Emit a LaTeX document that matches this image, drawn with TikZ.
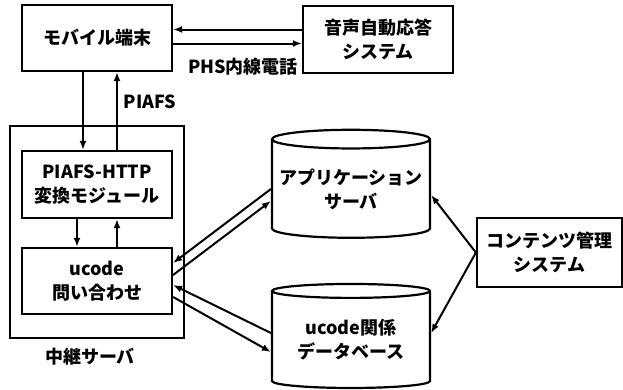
\documentclass[tikz,border=0pt]{standalone}
\usepackage{fontspec}
\setmainfont{Noto Sans CJK JP}
\usepackage{tikz}
\usetikzlibrary{arrows.meta,shapes.geometric}

\begin{document}
\begin{tikzpicture}[x=1pt, y=-1pt,
boxnode/.style={rectangle, draw=black, line width=2.2pt, align=center, inner sep=0pt},
dbnode/.style={cylinder, shape border rotate=90, draw=black, line width=2.2pt, align=center, aspect=0.13, inner sep=0pt},
arr/.style={-{Latex[length=9pt,width=7pt]}, line width=2pt},
every node/.style={font=\fontsize{18}{24}\selectfont\bfseries},
]
\useasboundingbox (0,0) rectangle (623,389);

%Nodes
\node[boxnode, minimum width=150pt, minimum height=66pt]      (mob)     at (97,38) {モバイル端末};
\node[boxnode, minimum width=150pt, minimum height=67pt]      (voice)   at (378,39.5) {音声自動応答\\システム};
\draw[line width=2.2pt] (10,126) rectangle (184,338);
\node                                                          (relay)   at (90,357) {中継サーバ};
\node[boxnode, minimum width=150pt, minimum height=67pt]      (piafs)   at (97,184.5) {PIAFS-HTTP\\変換モジュール};
\node[boxnode, minimum width=150pt, minimum height=66pt]      (uq)      at (97,281) {ucode\\問い合わせ};
\node[dbnode, minimum width=158pt, minimum height=108pt]      (app)     at (351,189) {アプリケーション\\サーバ};
\node[dbnode, minimum width=158pt, minimum height=104pt]      (db)      at (351,340) {ucode関係\\データベース};
\node[boxnode, minimum width=145pt, minimum height=69pt]      (cms)     at (549.5,252.5) {コンテンツ管理\\システム};

%Labels
\node (phs)    at (243,67) {PHS内線電話};
\node (piafsl) at (150,102) {PIAFS};

%Lines
\draw[arr] ([yshift=10pt]voice.west) -- ([yshift=10pt]voice.west -| mob.east);
\draw[arr] ([yshift=-4pt]voice.west -| mob.east) -- ([yshift=-4pt]voice.west);
\draw[arr] ([xshift=-14pt]mob.south) -- ([xshift=-14pt]mob.south |- piafs.north);
\draw[arr] ([xshift=20pt]piafs.north) -- ([xshift=20pt]piafs.north |- mob.south);
\draw[arr] ([xshift=-20pt]piafs.south) -- ([xshift=-20pt]piafs.south |- uq.north);
\draw[arr] ([xshift=20pt]uq.north) -- ([xshift=20pt]uq.north |- piafs.south);
\draw[arr] (app.west) -- ([yshift=18pt]uq.east);
\draw[arr] ([yshift=6pt]uq.east) -- ([yshift=-12pt]app.west);
\draw[arr] ([yshift=7pt]db.west) -- ([yshift=-4pt]uq.east);
\draw[arr] ([yshift=-16pt]uq.east) -- ([yshift=-12pt]db.west);
\draw[arr] (cms.west) -- ([yshift=-6pt]app.east);
\draw[arr] (cms.west) -- ([yshift=7pt]db.east);
\end{tikzpicture}
\end{document}
